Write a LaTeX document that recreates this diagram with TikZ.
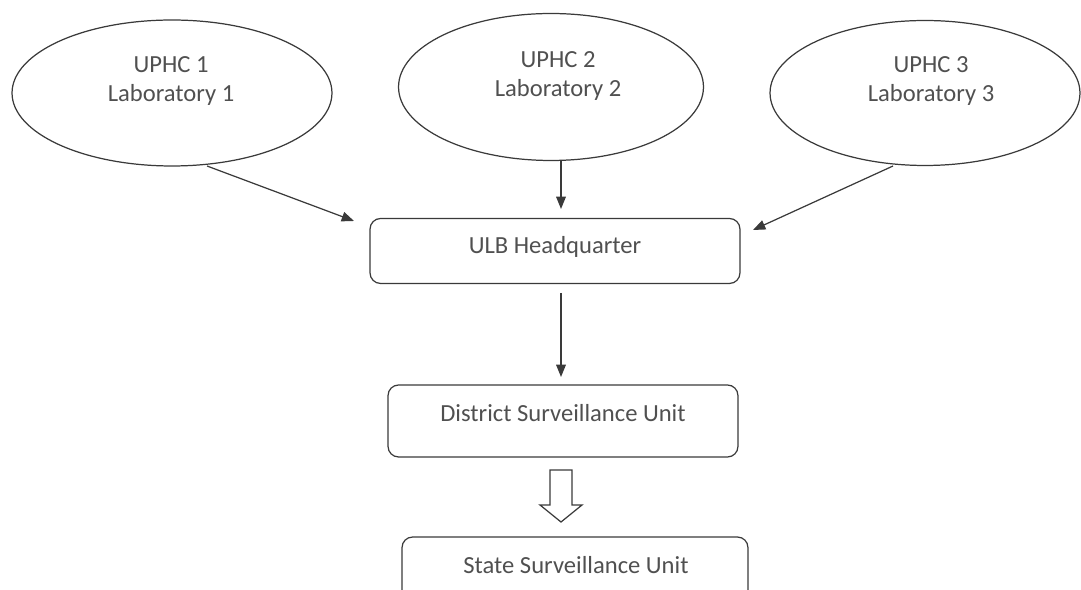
\documentclass[tikz,border=0pt]{standalone}
\usepackage{fontspec}
\setmainfont{Carlito}
\usetikzlibrary{shapes.geometric,arrows.meta}
\definecolor{inkline}{HTML}{3A3A3A}
\definecolor{inktext}{HTML}{505050}
\tikzset{
  lab/.style={draw=inkline,line width=0.7pt,ellipse,inner sep=0pt},
  unitbox/.style={draw=inkline,line width=0.7pt,rounded corners=6pt,inner sep=0pt},
  txt/.style={text=inktext,font=\fontsize{14}{17}\selectfont,align=center,inner sep=0pt},
  flow/.style={draw=inkline,line width=0.7pt,-{Triangle[length=7pt,width=5.5pt]}},
}
\begin{document}
\begin{tikzpicture}[x=0.02cm,y=-0.02cm]
\useasboundingbox (0,0) rectangle (1081,590);
\clip (0,0) rectangle (1081,590);

% laboratory ellipses
\node[lab,minimum width=6.4cm,minimum height=2.92cm] (e1) at (172,93) {};
\node[lab,minimum width=6.1cm,minimum height=2.94cm] (e2) at (551,87) {};
\node[lab,minimum width=6.2cm,minimum height=2.9cm] (e3) at (925,93) {};
\node[txt] (t1) at (171,81) {UPHC 1\\Laboratory 1};
\node[txt] (t2) at (558,76) {UPHC 2\\Laboratory 2};
\node[txt] (t3) at (931,81) {UPHC 3\\Laboratory 3};

% reporting chain
\node[unitbox,minimum width=7.4cm,minimum height=1.3cm] (ulb) at (555,251) {};
\node[txt] (tulb) at (555,247) {ULB Headquarter};
\node[unitbox,minimum width=7.0cm,minimum height=1.44cm] (dsu) at (563,421) {};
\node[txt] (tdsu) at (563,413) {District Surveillance Unit};
\node[unitbox,minimum width=6.92cm,minimum height=2cm] (ssu) at (575,587) {};
\node[txt] (tssu) at (576,565) {State Surveillance Unit};

% connectors
\coordinate (s1) at (207,166);
\coordinate (s3) at (893,166);
\coordinate (a1) at (354,221);
\coordinate (a2) at (561,209);
\coordinate (a3) at (753,230);
\coordinate (b1) at (561,293);
\coordinate (b2) at (561,377);
\draw[flow] (s1) -- (a1);
\draw[flow] (e2.south -| a2) -- (a2);
\draw[flow] (s3) -- (a3);
\draw[flow] (b1) -- (b2);

% hollow block arrow to the state unit
\draw[inkline,line width=0.7pt,line join=miter]
  (550,470) -- (572,470) -- (572,505) -- (582,505) -- (561,522)
  -- (540,505) -- (550,505) -- cycle;
\end{tikzpicture}
\end{document}
